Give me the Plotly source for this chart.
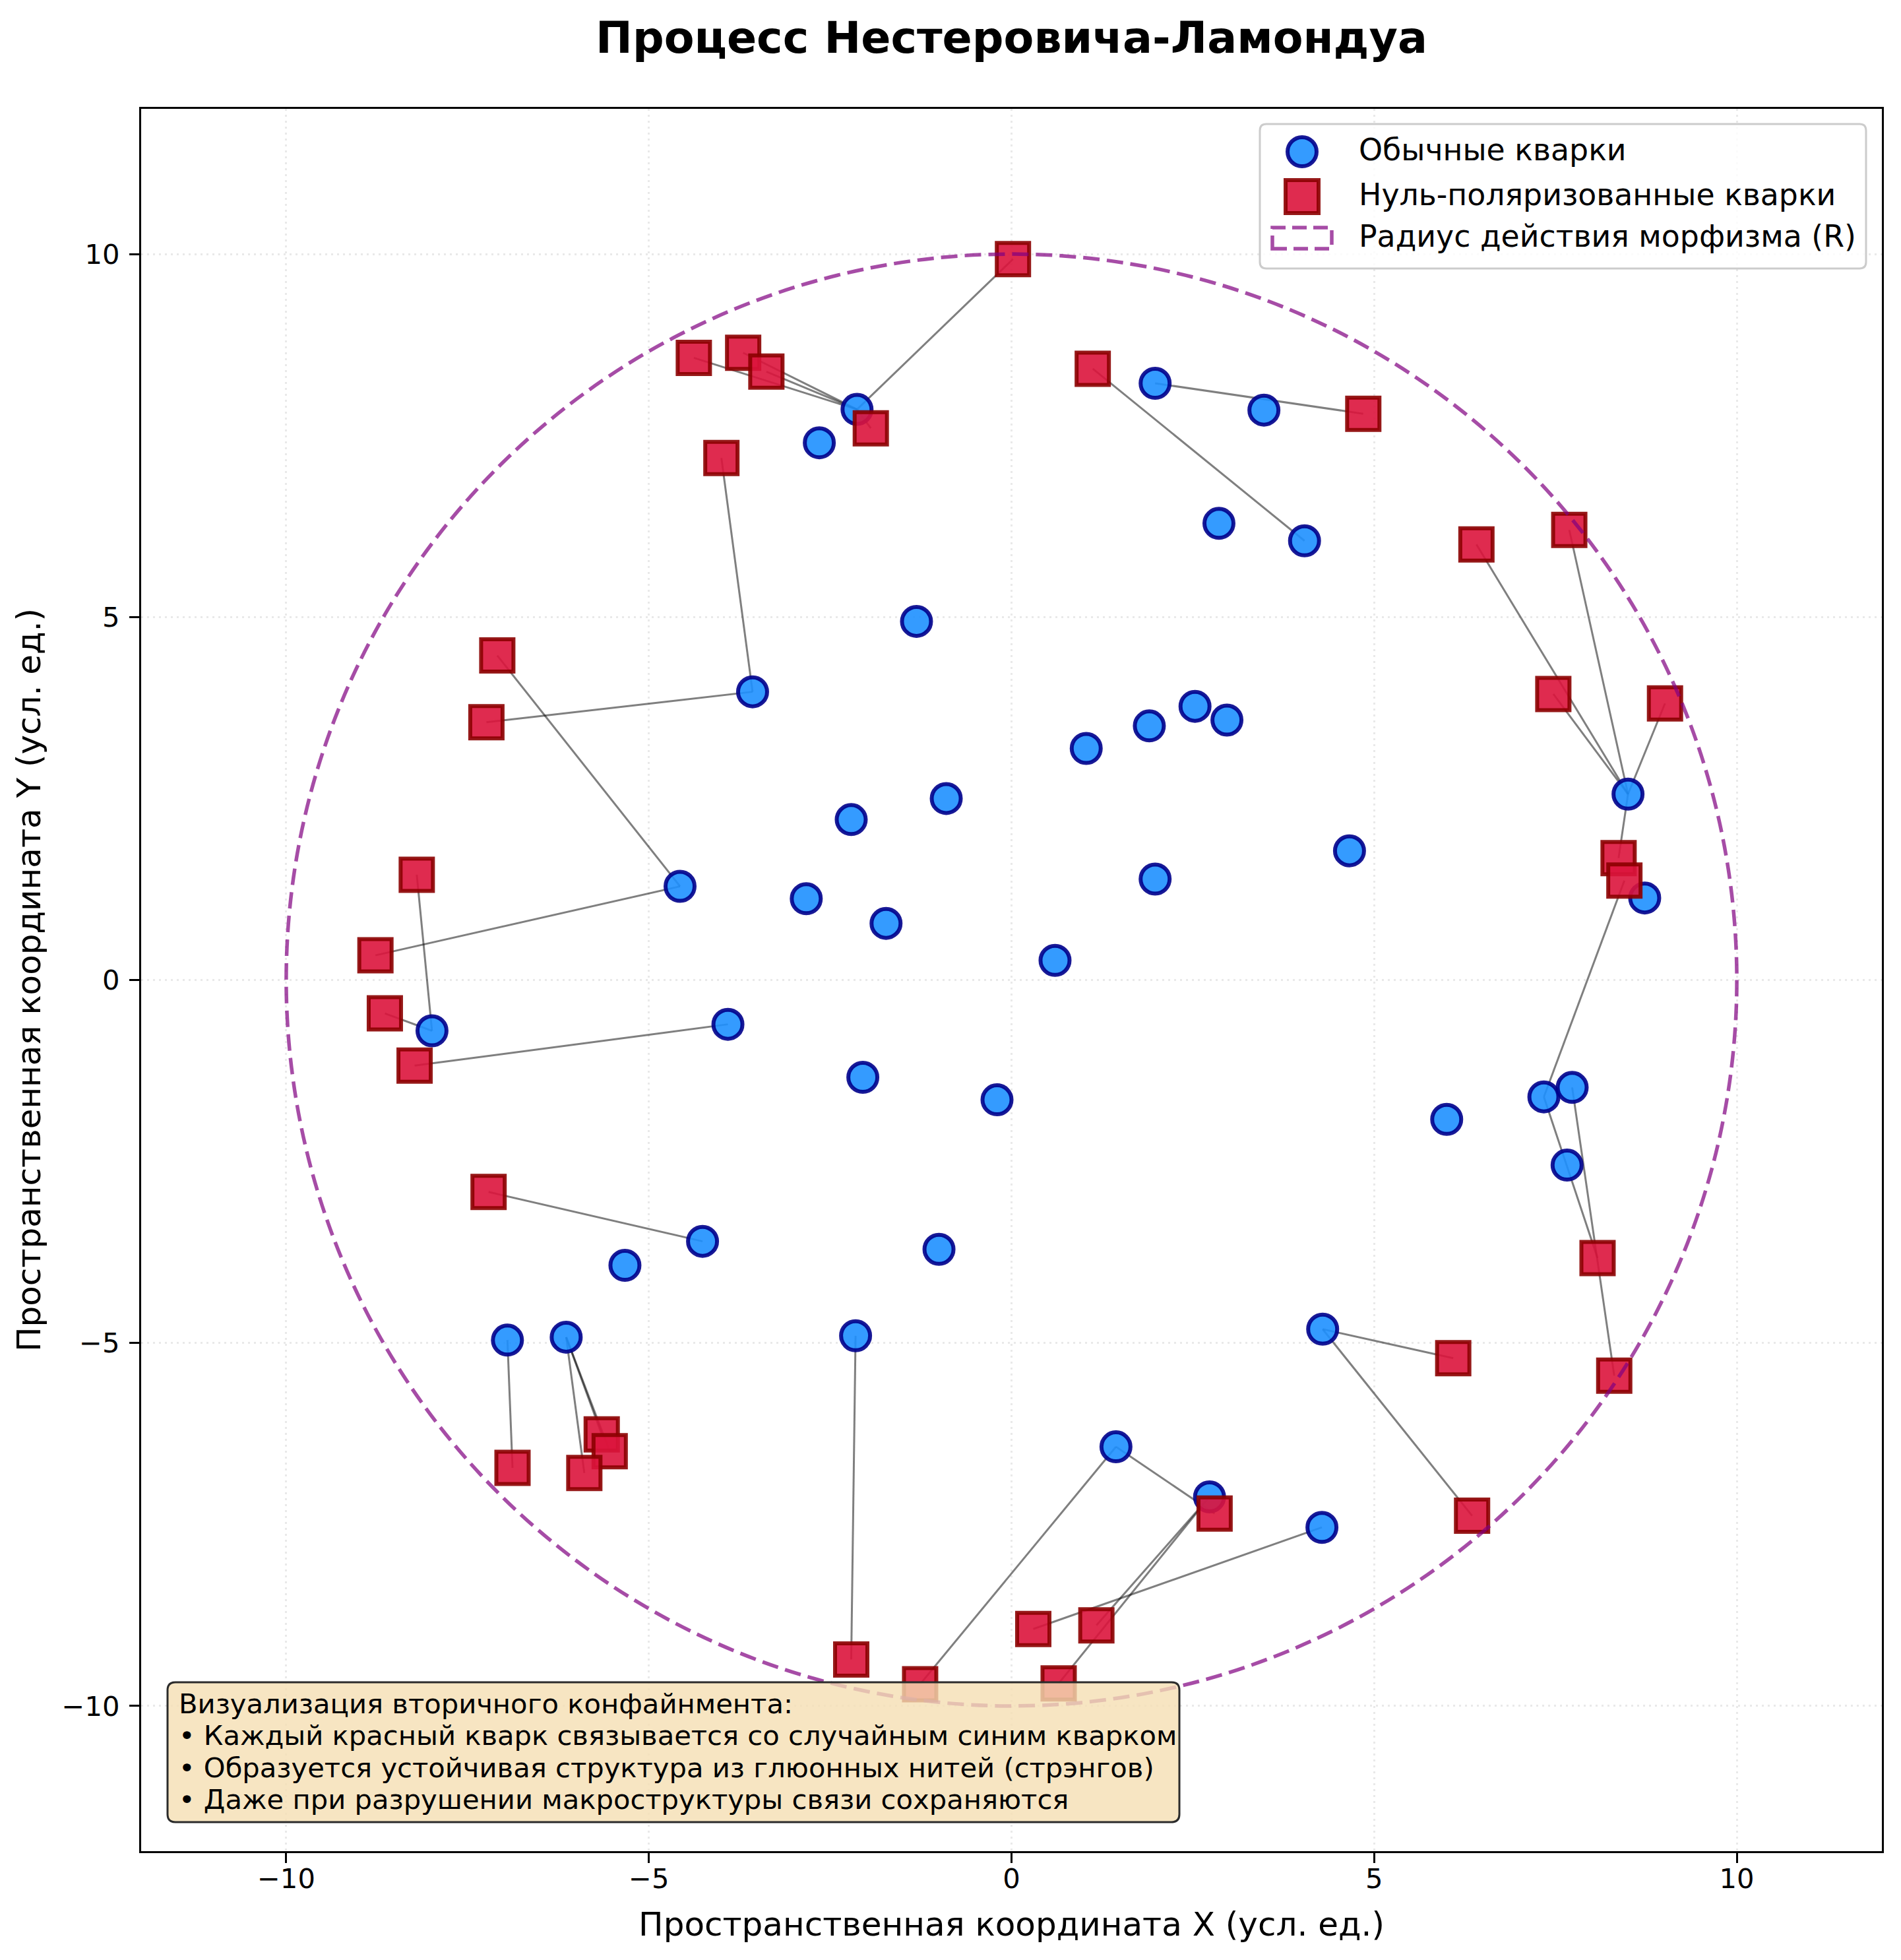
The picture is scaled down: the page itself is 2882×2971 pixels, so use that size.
import plotly.graph_objects as go

# ---------------- data ----------------
blue_x = [-2.13, -2.65, -1.31, -3.57, -0.90, -2.21, -4.57, -2.83, -1.73,
          1.98, 3.48, 2.86, 4.04, 2.53, 1.90, 2.97, 1.03, 8.50, 4.66, 1.98, 8.73, 0.60,
          -7.99, -3.91, -2.05, -0.20, -4.26, -5.33, -1.00, -6.95, -6.14, -2.15,
          7.34, 7.73, 6.00, 7.66, 4.29, 1.44, 2.73, 4.28]
blue_y = [7.86, 7.40, 4.94, 3.97, 2.50, 2.21, 1.29, 1.12, 0.78,
          8.22, 7.85, 6.29, 6.05, 3.77, 3.50, 3.58, 3.19, 2.56, 1.78, 1.39, 1.13, 0.27,
          -0.70, -0.61, -1.34, -1.65, -3.60, -3.93, -3.71, -4.96, -4.92, -4.90,
          -1.61, -1.48, -1.92, -2.55, -4.81, -6.43, -7.12, -7.54]

red_x = [-4.38, -3.70, -3.38, 0.02, -1.94, -4.00, -7.24, -7.09, -8.77, -8.20,
         1.12, 4.85, 6.41, 7.69, 7.47, 9.01, 8.37, 8.45,
         -8.64, -8.23, -7.21, -5.65, -5.54, -6.88, -5.89, -2.21, -1.26,
         8.08, 8.31, 6.09, 6.35, 2.80, 0.30, 1.17, 0.65]
red_y = [8.57, 8.64, 8.38, 9.93, 7.60, 7.19, 3.55, 4.47, 0.34, 1.45,
         8.42, 7.80, 6.00, 6.20, 3.94, 3.81, 1.68, 1.37,
         -0.46, -1.18, -2.92, -6.26, -6.49, -6.72, -6.79, -9.36, -9.70,
         -3.83, -5.45, -5.21, -7.38, -7.35, -8.94, -8.89, -9.69]
# index of the blue quark each red quark is linked to
red_link = [0, 0, 0, 0, 0, 3, 3, 6, 6, 22,
            12, 9, 17, 17, 17, 17, 17, 32,
            22, 23, 26, 30, 30, 29, 30, 31, 37,
            32, 33, 36, 36, 37, 39, 38, 38]

R = 10
axis_ticks = [-10, -5, 0, 5, 10]

title_text = "Процесс Нестеровича-Ламондуа"
xlabel = "Пространственная координата X (усл. ед.)"
ylabel = "Пространственная координата Y (усл. ед.)"
name_blue = "Обычные кварки"
name_red = "Нуль-поляризованные кварки"
name_circle = "Радиус действия морфизма (R)"
note_lines = [
    "Визуализация вторичного конфайнмента:",
    "• Каждый красный кварк связывается со случайным синим кварком",
    "• Образуется устойчивая структура из глюонных нитей (стрэнгов)",
    "• Даже при разрушении макроструктуры связи сохраняются",
]

# ---------------- styles ----------------
FONT = "DejaVu Sans"
BLUE_FILL, BLUE_EDGE = "rgba(30,144,255,0.9)", "rgba(0,0,139,0.9)"
RED_FILL, RED_EDGE = "rgba(220,20,60,0.9)", "rgba(139,0,0,0.9)"
CIRCLE_COLOR = "rgba(128,0,128,0.7)"
CIRCLE_DASH = "25px,11px"

# page geometry (the html body adds an 8px margin)
PAGE_OFF = 8
W, H = 2882 - PAGE_OFF, 2971 - PAGE_OFF
PL, PT, PR, PB = 214, 165, 2853, 2806          # plot area in page pixels
pw, ph = PR - PL, PB - PT
ML, MT = PL - PAGE_OFF, PT - PAGE_OFF
MR, MB = W - (PR - PAGE_OFF), H - (PB - PAGE_OFF)


def px(xp):
    return (xp - PL) / pw


def py(yp):
    return (PB - yp) / ph


def rounded_path(x0, y0, x1, y1, r):
    def P(a, b):
        return f"{px(a):.6f},{py(b):.6f}"
    return (f"M {P(x0 + r, y0)} L {P(x1 - r, y0)} Q {P(x1, y0)} {P(x1, y0 + r)} "
            f"L {P(x1, y1 - r)} Q {P(x1, y1)} {P(x1 - r, y1)} "
            f"L {P(x0 + r, y1)} Q {P(x0, y1)} {P(x0, y1 - r)} "
            f"L {P(x0, y0 + r)} Q {P(x0, y0)} {P(x0 + r, y0)} Z")


fig = go.Figure()

# links (gluon strings)
lx, ly = [], []
for i, b in enumerate(red_link):
    lx += [red_x[i], blue_x[b], None]
    ly += [red_y[i], blue_y[b], None]
fig.add_trace(go.Scatter(x=lx, y=ly, mode="lines",
                         line=dict(color="rgba(0,0,0,0.5)", width=3),
                         hoverinfo="skip", showlegend=False))

fig.add_trace(go.Scatter(x=blue_x, y=blue_y, mode="markers", name=name_blue,
                         marker=dict(symbol="circle", size=44, color=BLUE_FILL,
                                     line=dict(color=BLUE_EDGE, width=6)),
                         showlegend=False))
fig.add_trace(go.Scatter(x=red_x, y=red_y, mode="markers", name=name_red,
                         marker=dict(symbol="square", size=49, color=RED_FILL,
                                     line=dict(color=RED_EDGE, width=6)),
                         showlegend=False))

# radius circle
fig.add_shape(type="circle", xref="x", yref="y", x0=-R, y0=-R, x1=R, y1=R,
              line=dict(color=CIRCLE_COLOR, width=5.5, dash=CIRCLE_DASH),
              fillcolor="rgba(0,0,0,0)", layer="above", name=name_circle)

# ---------------- legend (drawn) ----------------
fig.add_shape(type="path", xref="paper", yref="paper",
              path=rounded_path(1910, 188, 2829, 407, 10),
              fillcolor="rgba(255,255,255,0.8)", line=dict(color="#cccccc", width=3),
              layer="above")
hx = 1974
rows = [230, 298, 361]
fig.add_shape(type="circle", xref="paper", yref="paper",
              x0=px(hx - 22), x1=px(hx + 22), y0=py(rows[0] + 22), y1=py(rows[0] - 22),
              fillcolor=BLUE_FILL, line=dict(color=BLUE_EDGE, width=6), layer="above")
fig.add_shape(type="rect", xref="paper", yref="paper",
              x0=px(hx - 25), x1=px(hx + 25), y0=py(rows[1] + 25), y1=py(rows[1] - 25),
              fillcolor=RED_FILL, line=dict(color=RED_EDGE, width=6), layer="above")
fig.add_shape(type="rect", xref="paper", yref="paper",
              x0=px(1929), x1=px(2019), y0=py(377), y1=py(345),
              fillcolor="rgba(0,0,0,0)", line=dict(color=CIRCLE_COLOR, width=5.5, dash="22px,10px"),
              layer="above")
for txt, cy in zip([name_blue, name_red, name_circle], rows):
    fig.add_annotation(text=txt, xref="paper", yref="paper", x=px(2058), y=py(cy - 3),
                       xanchor="left", yanchor="middle", showarrow=False,
                       font=dict(family=FONT, size=45.8, color="black"))

# ---------------- note box ----------------
fig.add_shape(type="path", xref="paper", yref="paper",
              path=rounded_path(254, 2550, 1788, 2762, 12),
              fillcolor="rgba(245,222,179,0.8)", line=dict(color="#2b2b2b", width=3),
              layer="above")
line_centers = [2582, 2630, 2679, 2727]
for txt, cy in zip(note_lines, line_centers):
    fig.add_annotation(text=txt, xref="paper", yref="paper",
                       x=px(269), y=py(cy),
                       xanchor="left", yanchor="middle", showarrow=False,
                       font=dict(family=FONT, size=41.7, color="black"))

axis_common = dict(range=[-12, 12], tickvals=axis_ticks, ticks="outside",
                   ticklen=15, tickwidth=3.3, tickcolor="black",
                   showline=True, linecolor="black", linewidth=3.3, mirror=True,
                   showgrid=True, gridcolor="rgba(176,176,176,0.28)", gridwidth=2.5,
                   griddash="3px,6px", zeroline=False,
                   tickfont=dict(family=FONT, size=41.7, color="black"))

fig.update_xaxes(**axis_common, ticklabelstandoff=-12,
                 title=dict(text=xlabel, font=dict(family=FONT, size=50, color="black"),
                            standoff=28))
fig.update_yaxes(**axis_common, ticklabelstandoff=6,
                 title=dict(text=ylabel, font=dict(family=FONT, size=50, color="black"),
                            standoff=17))

fig.update_layout(
    width=W, height=H,
    margin=dict(l=ML, r=MR, t=MT, b=MB),
    paper_bgcolor="white", plot_bgcolor="white",
    font=dict(family=FONT, color="black"),
    title=dict(text="<b>" + title_text + "</b>", x=0.5, xanchor="center",
               xref="paper", y=1 - (57 - PAGE_OFF) / H, yanchor="middle", yref="container",
               font=dict(family=FONT, size=66.7, color="black")),
    showlegend=False,
)

fig.write_html("out.html")
